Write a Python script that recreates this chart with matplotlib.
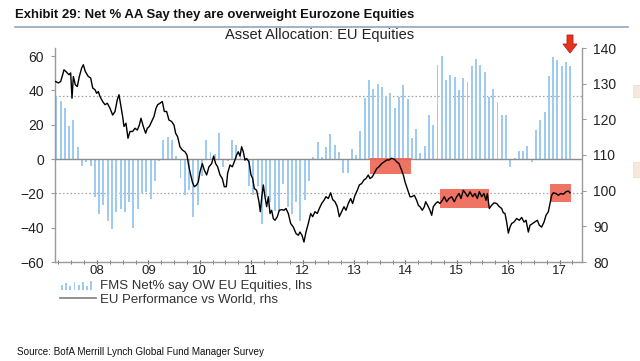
import numpy as np
import matplotlib
matplotlib.use("Agg")
import matplotlib.pyplot as plt
from matplotlib import font_manager as fm
from matplotlib.patches import Rectangle, FancyArrow

plt.rcParams["font.family"] = ["Liberation Sans", "DejaVu Sans"]

# monthly FMS net % overweight EU equities, Mar 2007 - Mar 2017 (lhs)
fms_start_year = 2007
fms_start_month = 3
fms_net = [
    37, 34, 30, 19, 23, 7, -4, -2, -4, -22,
    -32, -27, -36, -41, -31, -29, -31, -25, -40, -29,
    -20, -19, -23, -13, -1, 11, 13, 11, 2, -11,
    -21, -18, -34, -27, -10, 11, 4, 3, 15, -4.5,
    -1, 11, 8, 4, -1, -15.5, -21, -16, -38, -22,
    -25, -30, -30, -14.5, -28, -32, -25, -36, -24, -13,
    1, 10, 1, 7, 14.5, 8, 4, -8, -8, 6,
    2.5, 16.5, 35.5, 46, 41, 44, 42, 37, 38.5, 30,
    36, 43, 35, 12.5, 17.7, 3.8, 7.6, 25.8, 19.7, 55,
    60, 46, 49, 47.7, 40, 47, 45, 54, 58, 55,
    51, 36, 41, 33, 25.8, 25.8, -4.7, 0.8, 4.7, 4.7,
    7.6, -1.6, 16.8, 22.7, 27.2, 48.3, 59.4, 57.9, 54, 56.3, 54,
]

# EU performance vs world (rhs) as (decimal year, value)
perf_t = [
    2007.196, 2007.248, 2007.293, 2007.332, 2007.358, 2007.410, 2007.455, 2007.488,
    2007.514, 2007.540, 2007.578, 2007.617, 2007.656, 2007.702, 2007.734, 2007.773,
    2007.831, 2007.877, 2007.916, 2007.961, 2007.993, 2008.026, 2008.058, 2008.110,
    2008.156, 2008.201, 2008.253, 2008.305, 2008.350, 2008.395, 2008.428, 2008.460,
    2008.499, 2008.525, 2008.564, 2008.603, 2008.642, 2008.694, 2008.739, 2008.785,
    2008.824, 2008.856, 2008.901, 2008.947, 2008.979, 2009.018, 2009.063, 2009.109,
    2009.148, 2009.180, 2009.225, 2009.271, 2009.310, 2009.355, 2009.400, 2009.452,
    2009.498, 2009.530, 2009.569, 2009.614, 2009.660, 2009.712, 2009.751, 2009.777,
    2009.809, 2009.854, 2009.893, 2009.939, 2009.971, 2010.004, 2010.049, 2010.088,
    2010.133, 2010.179, 2010.231, 2010.269, 2010.308, 2010.347, 2010.393, 2010.438,
    2010.477, 2010.516, 2010.542, 2010.587, 2010.633, 2010.671, 2010.717, 2010.749,
    2010.782, 2010.814, 2010.846, 2010.879, 2010.911, 2010.957, 2010.996, 2011.028,
    2011.061, 2011.106, 2011.151, 2011.177, 2011.203, 2011.236, 2011.268, 2011.301,
    2011.333, 2011.366, 2011.398, 2011.430, 2011.463, 2011.508, 2011.547, 2011.593,
    2011.638, 2011.677, 2011.722, 2011.768, 2011.820, 2011.871, 2011.917, 2011.949,
    2011.988, 2012.027, 2012.066, 2012.111, 2012.157, 2012.196, 2012.241, 2012.286,
    2012.325, 2012.371, 2012.416, 2012.455, 2012.500, 2012.546, 2012.585, 2012.630,
    2012.675, 2012.714, 2012.760, 2012.805, 2012.844, 2012.889, 2012.935, 2012.974,
    2013.019, 2013.065, 2013.104, 2013.149, 2013.194, 2013.233, 2013.278, 2013.311,
    2013.357, 2013.396, 2013.441, 2013.486, 2013.538, 2013.590, 2013.635, 2013.681,
    2013.733, 2013.785, 2013.830, 2013.875, 2013.914, 2013.960, 2013.992, 2014.025,
    2014.057, 2014.089, 2014.122, 2014.174, 2014.219, 2014.252, 2014.284, 2014.329,
    2014.368, 2014.394, 2014.433, 2014.478, 2014.511, 2014.543, 2014.589, 2014.628,
    2014.673, 2014.718, 2014.757, 2014.803, 2014.848, 2014.900, 2014.952, 2014.997,
    2015.043, 2015.082, 2015.127, 2015.172, 2015.211, 2015.257, 2015.309, 2015.354,
    2015.400, 2015.439, 2015.484, 2015.529, 2015.568, 2015.594, 2015.633, 2015.678,
    2015.724, 2015.776, 2015.828, 2015.873, 2015.905, 2015.938, 2015.970, 2016.003,
    2016.035, 2016.068, 2016.113, 2016.165, 2016.217, 2016.262, 2016.308, 2016.347,
    2016.392, 2016.424, 2016.476, 2016.521, 2016.567, 2016.606, 2016.651, 2016.697,
    2016.736, 2016.781, 2016.813, 2016.846, 2016.878, 2016.930, 2016.976, 2017.021,
    2017.073, 2017.125, 2017.170, 2017.203,
]
perf_v = [
    130.6, 130.2, 130.6, 132.5, 133.9, 133.2, 132.5, 133.0,
    125.9, 132.0, 129.7, 129.2, 132.0, 134.4, 135.3, 133.4,
    132.0, 131.6, 128.8, 128.3, 127.3, 127.8, 126.4, 125.0,
    124.1, 124.5, 123.1, 121.2, 122.2, 125.5, 126.9, 124.1,
    120.8, 118.0, 118.9, 114.7, 116.6, 116.6, 117.5, 117.0,
    118.4, 120.3, 118.0, 116.1, 117.5, 118.0, 119.4, 120.8,
    123.1, 124.1, 124.5, 125.0, 122.2, 122.2, 119.8, 119.4,
    118.4, 116.1, 115.1, 112.3, 111.4, 110.9, 110.0, 107.6,
    105.3, 102.5, 101.1, 101.6, 102.5, 105.3, 107.6, 105.8,
    104.4, 106.7, 107.6, 109.7, 107.6, 106.7, 104.4, 103.4,
    101.1, 101.1, 104.9, 107.2, 106.7, 108.1, 110.0, 110.9,
    109.7, 112.3, 110.9, 108.6, 109.0, 108.1, 104.4, 103.4,
    100.6, 100.1, 96.9, 94.1, 97.8, 101.6, 98.3, 95.5,
    98.3, 93.6, 94.5, 92.2, 91.7, 92.7, 94.5, 94.7,
    94.5, 95.0, 93.6, 90.8, 89.8, 88.0, 87.5, 88.4,
    87.5, 85.6, 88.4, 90.8, 93.6, 92.7, 94.1, 93.6,
    95.0, 96.4, 97.3, 98.3, 97.8, 99.4, 97.5, 96.9,
    95.5, 92.7, 94.1, 95.5, 94.5, 96.4, 97.8, 96.4,
    98.7, 100.1, 101.6, 102.0, 103.0, 103.4, 104.4, 103.4,
    103.9, 104.9, 106.2, 106.7, 107.6, 108.1, 108.6, 108.6,
    109.1, 108.8, 108.1, 107.6, 106.2, 104.4, 102.5, 101.1,
    99.7, 98.3, 98.3, 98.7, 97.3, 95.9, 95.5, 94.5,
    95.5, 96.9, 95.9, 94.5, 93.1, 95.5, 96.4, 96.9,
    96.4, 97.3, 98.3, 96.9, 97.8, 98.3, 96.9, 98.3,
    99.2, 97.8, 100.1, 99.2, 98.3, 99.7, 98.3, 99.2,
    97.8, 99.7, 98.3, 99.2, 97.3, 99.2, 95.0, 95.9,
    96.6, 96.4, 95.5, 95.0, 93.8, 93.6, 91.2, 88.1,
    89.8, 90.8, 91.2, 92.2, 91.7, 92.5, 91.2, 91.7,
    88.4, 90.3, 90.8, 91.2, 91.7, 90.3, 89.8, 91.2,
    93.1, 94.1, 96.4, 98.7, 99.4, 99.2, 98.7, 99.2,
    99.0, 99.7, 99.9, 99.4,
]

# highlighted periods (start, end, low, high) in rhs units
highlights = [
    (2013.32, 2014.10, 104.7, 109.1),
    (2014.67, 2015.63, 95.2, 100.6),
    (2016.81, 2017.22, 96.8, 101.8),
]

year_ticks = list(range(2008, 2018))
year_labels = ["08", "09", "10", "11", "12", "13", "14", "15", "16", "17"]
ref_levels = [37, -20]

bar_color = "#9fcbf3"
axis_grey = "#9a9a9a"
text_col = "#222222"

# narrow face for the title / source line if one is installed
names = {f.name for f in fm.fontManager.ttflist}
narrow = "Liberation Sans Narrow" if "Liberation Sans Narrow" in names else "Liberation Sans"

# bar positions: mid-month decimal years
n = len(fms_net)
months = np.arange(n) + (fms_start_month - 1)
bar_x = fms_start_year + (months + 0.5) / 12.0

fig = plt.figure(figsize=(6.4, 3.61), dpi=100)
ax = fig.add_axes([55 / 640, 1 - 262 / 361, 527 / 640, 214 / 361])
ax2 = ax.twinx()

ax.bar(bar_x, fms_net, width=0.038, color=bar_color, linewidth=0, zorder=2)
ax.axhline(0, color="#8c8c8c", lw=1.0, zorder=3)
for lev in ref_levels:
    ax.axhline(lev, color="#a0a0a0", lw=0.9, ls=(0, (1.2, 1.8)), zorder=1)

for t0, t1, lo, hi in highlights:
    ax2.add_patch(Rectangle((t0, lo), t1 - t0, hi - lo, facecolor="#ee6552",
                            edgecolor="none", alpha=0.9, zorder=1))
ax2.plot(perf_t, perf_v, color="black", lw=1.0, zorder=3)

ax.set_xlim(2007.183, 2017.436)
ax.set_ylim(-60, 64.7)
ax2.set_ylim(80, 140)
ax.set_yticks([60, 40, 20, 0, -20, -40, -60])
ax2.set_yticks([140, 130, 120, 110, 100, 90, 80])
ax.set_xticks(year_ticks)
ax.set_xticklabels(year_labels)
ax.set_xticks(np.arange(2007.25, 2017.5, 0.25), minor=True)

for a in (ax, ax2):
    a.spines["top"].set_visible(False)
    for s in ("left", "right", "bottom"):
        a.spines[s].set_color(axis_grey)
        a.spines[s].set_linewidth(1.0)
ax.spines["right"].set_visible(False)
ax2.spines["left"].set_visible(False)
ax2.spines["bottom"].set_visible(False)

ax.tick_params(axis="y", direction="out", length=3, color=axis_grey,
               labelsize=10, labelcolor=text_col, pad=5)
ax2.tick_params(axis="y", direction="out", length=3, color=axis_grey,
                labelsize=10, labelcolor=text_col, pad=5)
ax.tick_params(axis="x", which="both", direction="inout", length=3,
               color="#555555", labelsize=9.5, labelcolor=text_col, pad=1)

# titles
title = fig.text(15 / 640, 1 - 15 / 361,
                 "Exhibit 29: Net % AA Say they are overweight Eurozone Equities",
                 fontsize=11, fontweight="bold", color="#111111", va="center",
                 family=[narrow, "DejaVu Sans"])
fig.add_artist(plt.Line2D([15 / 640, 628 / 640], [1 - 27 / 361, 1 - 27 / 361],
                          color="#8ea6c2", lw=1.2))
fig.text(320 / 640, 1 - 35 / 361, "Asset Allocation: EU Equities",
         fontsize=10.5, color=text_col, ha="center", va="center")

# arrow marking latest survey
fig.add_artist(FancyArrow(570 / 640, 1 - 35 / 361, 0, -18 / 361, width=6 / 640,
                          head_width=14 / 640, head_length=9 / 361,
                          length_includes_head=True, facecolor="#e8321e",
                          edgecolor="#b02010", lw=0.6))

# legend
for i, h in enumerate([0.55, 0.8, 0.45, 0.9, 0.6, 0.85, 0.5, 0.95]):
    fig.add_artist(Rectangle(((61 + i * 4.2) / 640, 1 - 290 / 361), 1.8 / 640, h * 9 / 361,
                             facecolor=bar_color, edgecolor="none"))
fig.add_artist(plt.Line2D([60 / 640, 96 / 640], [1 - 298 / 361, 1 - 298 / 361],
                          color="#8a8a8a", lw=1.3))
fig.text(100 / 640, 1 - 286 / 361, "FMS Net% say OW EU Equities, lhs", fontsize=9.5,
         color="#333333", va="center")
fig.text(100 / 640, 1 - 299 / 361, "EU Performance vs World, rhs", fontsize=9.5,
         color="#333333", va="center")

source = fig.text(17 / 640, 1 - 352 / 361,
                  "Source: BofA Merrill Lynch Global Fund Manager Survey",
                  fontsize=8, color="#111111", va="center",
                  family=[narrow, "DejaVu Sans"])

# fit title / source widths to the reference layout (pixels)
fig.canvas.draw()
renderer = fig.canvas.get_renderer()
for txt, width_px in [(title, 400), (source, 250)]:
    w = txt.get_window_extent(renderer).width
    txt.set_fontsize(txt.get_fontsize() * width_px / w)

# partial shapes at the right edge of the page
for y0, y1 in [(85, 97), (162, 177)]:
    fig.add_artist(Rectangle((633 / 640, 1 - y1 / 361), 7 / 640, (y1 - y0) / 361,
                             facecolor="#f6e9dc", edgecolor="#eadccd", lw=0.5))

fig.savefig("out.png", dpi=100)
